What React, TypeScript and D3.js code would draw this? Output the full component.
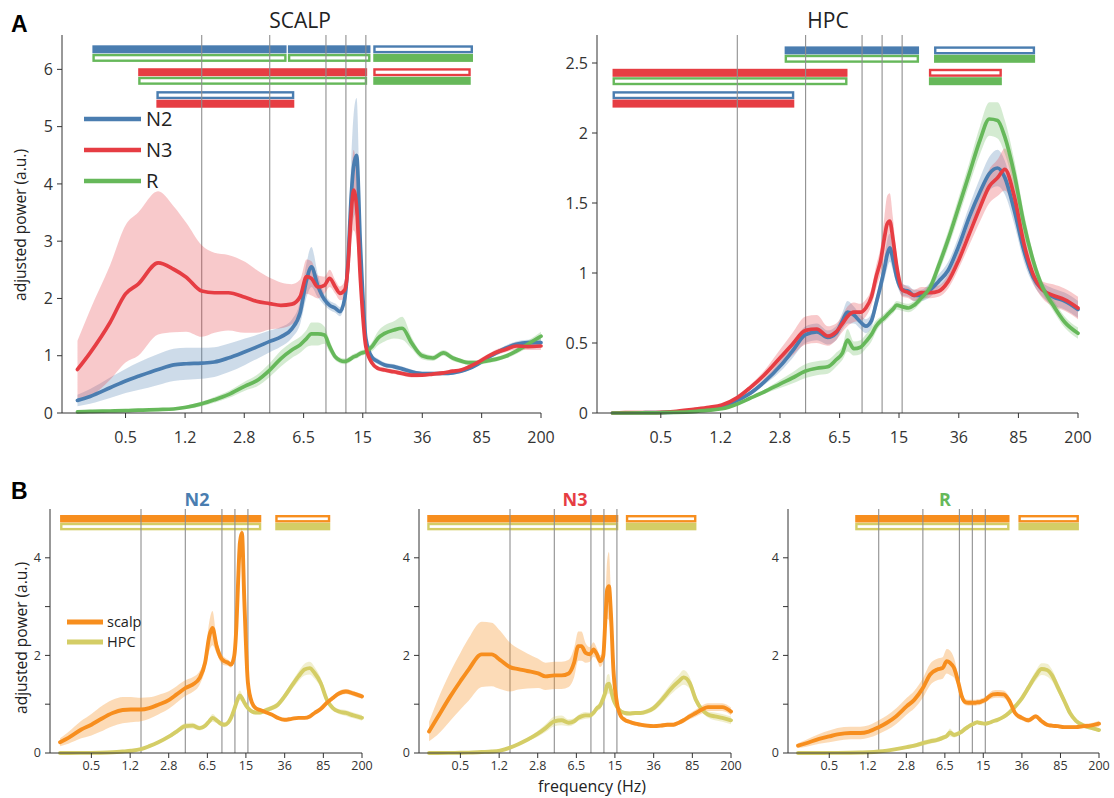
import React from 'react';
import * as d3 from 'd3';

// frequency grid (Hz) shared by every spectrum
const freqs = [0.25, 0.3, 0.4, 0.5, 0.6, 0.8, 1.0, 1.2, 1.5, 1.8, 2.2, 2.8, 3.3, 4.0, 4.7, 5.5, 6.2, 6.8, 7.3, 8.0,
  8.8, 9.5, 10.3, 11.0, 11.8, 12.4, 12.9, 13.4, 14.0, 14.8, 16, 17.5, 19, 21, 24, 27, 31, 36, 42, 49,
  56, 63, 70, 80, 92, 105, 120, 140, 165, 200];

const tickFreqs = [0.5, 1.18, 2.77, 6.52, 15.3, 36.1, 85, 200];
const tickLabels = ['0.5', '1.2', '2.8', '6.5', '15', '36', '85', '200'];
const bandEdges = [1.5, 4, 9, 12, 16];

// panel A - scalp
const scalpN2 = [0.22, 0.29, 0.44, 0.56, 0.64, 0.76, 0.84, 0.86, 0.87, 0.89, 0.96, 1.07, 1.15, 1.25, 1.33, 1.47, 1.75, 2.32, 2.55, 2.22,
  1.98, 1.88, 1.83, 1.77, 2.0, 2.7, 3.7, 4.3, 4.5, 2.9, 1.3, 0.97, 0.9, 0.84, 0.81, 0.77, 0.72, 0.69, 0.69, 0.69,
  0.7, 0.73, 0.77, 0.85, 0.96, 1.05, 1.13, 1.2, 1.23, 1.23];
const scalpN2Err = [0.1, 0.13, 0.18, 0.21, 0.24, 0.27, 0.28, 0.28, 0.27, 0.26, 0.25, 0.23, 0.21, 0.19, 0.17, 0.16, 0.2, 0.3, 0.35, 0.2,
  0.1, 0.08, 0.08, 0.08, 0.1, 0.3, 0.6, 0.9, 1.0, 0.5, 0.1, 0.05, 0.05, 0.04, 0.04, 0.04, 0.04, 0.03, 0.03, 0.03,
  0.03, 0.03, 0.03, 0.03, 0.04, 0.04, 0.05, 0.05, 0.05, 0.06];
const scalpN3 = [0.76, 1.05, 1.58, 2.08, 2.25, 2.62, 2.51, 2.37, 2.13, 2.1, 2.1, 2.02, 1.95, 1.91, 1.88, 1.9, 2.03, 2.38, 2.35, 2.2,
  2.23, 2.35, 2.2, 2.09, 2.15, 2.61, 3.42, 3.89, 3.6, 2.32, 1.16, 0.87, 0.78, 0.75, 0.72, 0.69, 0.66, 0.66, 0.68, 0.7,
  0.73, 0.75, 0.8, 0.88, 0.98, 1.06, 1.11, 1.17, 1.16, 1.17];
const scalpN3Err = [0.5, 0.75, 1.0, 1.2, 1.25, 1.25, 1.1, 0.95, 0.8, 0.7, 0.66, 0.62, 0.55, 0.45, 0.4, 0.35, 0.3, 0.3, 0.3, 0.2,
  0.15, 0.15, 0.12, 0.12, 0.15, 0.3, 0.5, 0.7, 0.6, 0.3, 0.08, 0.04, 0.04, 0.04, 0.04, 0.04, 0.04, 0.03, 0.03, 0.03,
  0.03, 0.03, 0.03, 0.04, 0.04, 0.05, 0.05, 0.06, 0.06, 0.07];
const scalpR = [0.02, 0.03, 0.035, 0.04, 0.05, 0.06, 0.07, 0.1, 0.16, 0.23, 0.32, 0.47, 0.56, 0.75, 0.95, 1.1, 1.19, 1.3, 1.38, 1.38,
  1.36, 1.16, 0.98, 0.92, 0.9, 0.92, 0.95, 0.98, 1.0, 1.04, 1.07, 1.16, 1.3, 1.39, 1.45, 1.48, 1.22, 1.0, 0.96, 1.05,
  0.96, 0.91, 0.88, 0.88, 0.91, 0.94, 0.99, 1.08, 1.2, 1.34];
const scalpRErr = [0.02, 0.02, 0.02, 0.02, 0.02, 0.02, 0.02, 0.03, 0.04, 0.05, 0.06, 0.08, 0.1, 0.12, 0.14, 0.14, 0.14, 0.15, 0.2, 0.2,
  0.15, 0.1, 0.06, 0.05, 0.05, 0.05, 0.05, 0.05, 0.05, 0.05, 0.05, 0.08, 0.12, 0.14, 0.15, 0.2, 0.1, 0.06, 0.05, 0.05,
  0.05, 0.04, 0.04, 0.04, 0.04, 0.04, 0.04, 0.05, 0.06, 0.08];

// panel A - hippocampus
const hpcN2 = [0.0, 0.001, 0.002, 0.003, 0.006, 0.017, 0.03, 0.045, 0.09, 0.14, 0.22, 0.34, 0.44, 0.56, 0.58, 0.54, 0.57, 0.66, 0.72, 0.7,
  0.65, 0.62, 0.66, 0.78, 0.92, 1.03, 1.13, 1.18, 1.1, 0.97, 0.88, 0.87, 0.84, 0.84, 0.88, 0.94, 1.02, 1.19, 1.4, 1.58,
  1.71, 1.75, 1.68, 1.45, 1.16, 0.97, 0.88, 0.83, 0.8, 0.74];
const hpcN2Err = [0, 0, 0, 0, 0.001, 0.003, 0.005, 0.007, 0.01, 0.015, 0.02, 0.04, 0.05, 0.06, 0.06, 0.05, 0.05, 0.06, 0.08, 0.06,
  0.05, 0.05, 0.05, 0.05, 0.06, 0.08, 0.1, 0.1, 0.08, 0.05, 0.04, 0.04, 0.04, 0.04, 0.05, 0.05, 0.06, 0.07, 0.08, 0.1,
  0.12, 0.13, 0.12, 0.1, 0.08, 0.05, 0.05, 0.06, 0.06, 0.06];
const hpcN3 = [0.0, 0.002, 0.003, 0.005, 0.01, 0.026, 0.04, 0.057, 0.11, 0.18, 0.27, 0.4, 0.49, 0.59, 0.6, 0.55, 0.58, 0.64, 0.69, 0.72,
  0.72, 0.75, 0.83, 0.97, 1.1, 1.25, 1.35, 1.37, 1.25, 1.05, 0.88, 0.86, 0.84, 0.86, 0.86, 0.87, 0.94, 1.09, 1.28, 1.47,
  1.62, 1.68, 1.74, 1.55, 1.21, 0.99, 0.88, 0.84, 0.81, 0.75];
const hpcN3Err = [0, 0, 0, 0, 0.001, 0.003, 0.005, 0.008, 0.012, 0.02, 0.03, 0.06, 0.08, 0.1, 0.1, 0.07, 0.06, 0.06, 0.07, 0.07,
  0.06, 0.06, 0.06, 0.08, 0.1, 0.15, 0.2, 0.2, 0.15, 0.08, 0.05, 0.04, 0.04, 0.04, 0.04, 0.04, 0.05, 0.06, 0.08, 0.1,
  0.12, 0.13, 0.15, 0.12, 0.08, 0.06, 0.06, 0.08, 0.08, 0.08];
const hpcR = [0.0, 0.0, 0.001, 0.002, 0.004, 0.01, 0.02, 0.03, 0.065, 0.105, 0.15, 0.21, 0.25, 0.3, 0.32, 0.33, 0.38, 0.43, 0.52, 0.46,
  0.47, 0.51, 0.56, 0.62, 0.66, 0.68, 0.7, 0.72, 0.74, 0.77, 0.76, 0.75, 0.77, 0.82, 0.9, 1.05, 1.24, 1.47, 1.71, 1.95,
  2.1, 2.09, 1.97, 1.71, 1.35, 1.09, 0.9, 0.77, 0.65, 0.57];
const hpcRErr = [0, 0, 0, 0, 0.001, 0.002, 0.003, 0.005, 0.008, 0.01, 0.015, 0.03, 0.04, 0.05, 0.05, 0.05, 0.05, 0.05, 0.08, 0.05,
  0.05, 0.05, 0.05, 0.04, 0.03, 0.03, 0.03, 0.03, 0.03, 0.03, 0.03, 0.03, 0.03, 0.03, 0.04, 0.05, 0.06, 0.07, 0.08, 0.1,
  0.12, 0.13, 0.12, 0.1, 0.08, 0.05, 0.04, 0.04, 0.04, 0.04];

// panel B - scalp vs HPC per stage
const bN2Scalp = [0.22, 0.31, 0.48, 0.58, 0.68, 0.82, 0.88, 0.89, 0.89, 0.92, 0.99, 1.09, 1.2, 1.33, 1.4, 1.54, 1.85, 2.39, 2.56, 2.19,
  1.95, 1.88, 1.85, 1.81, 1.98, 2.6, 3.56, 4.31, 4.51, 3.08, 1.44, 1.03, 0.92, 0.88, 0.83, 0.79, 0.72, 0.68, 0.7, 0.72,
  0.72, 0.75, 0.82, 0.9, 1.03, 1.13, 1.22, 1.26, 1.22, 1.16];
const bN2ScalpErr = [0.08, 0.12, 0.18, 0.22, 0.25, 0.27, 0.27, 0.26, 0.24, 0.22, 0.2, 0.18, 0.17, 0.16, 0.15, 0.14, 0.15, 0.3, 0.35, 0.15,
  0.1, 0.08, 0.06, 0.06, 0.06, 0.1, 0.1, 0.1, 0.1, 0.08, 0.05, 0.04, 0.04, 0.03, 0.03, 0.03, 0.03, 0.03, 0.03, 0.03,
  0.03, 0.03, 0.03, 0.03, 0.04, 0.04, 0.05, 0.05, 0.05, 0.05];
const bN2Hpc = [0.0, 0.001, 0.002, 0.003, 0.006, 0.015, 0.03, 0.045, 0.08, 0.14, 0.22, 0.34, 0.44, 0.55, 0.56, 0.51, 0.56, 0.65, 0.72, 0.67,
  0.6, 0.58, 0.62, 0.72, 0.89, 1.03, 1.13, 1.18, 1.13, 1.03, 0.92, 0.85, 0.83, 0.83, 0.88, 0.92, 0.99, 1.16, 1.37, 1.57,
  1.71, 1.74, 1.64, 1.44, 1.09, 0.92, 0.85, 0.82, 0.77, 0.72];
const bN3Scalp = [0.44, 0.72, 1.16, 1.47, 1.71, 2.02, 2.02, 1.91, 1.76, 1.72, 1.68, 1.63, 1.57, 1.59, 1.59, 1.63, 1.85, 2.19, 2.19, 2.05,
  2.02, 2.12, 2.02, 1.88, 1.98, 2.74, 3.35, 3.42, 2.87, 1.71, 1.03, 0.75, 0.68, 0.64, 0.6, 0.58, 0.56, 0.55, 0.56, 0.58,
  0.58, 0.62, 0.67, 0.75, 0.82, 0.89, 0.94, 0.94, 0.94, 0.85];
const bN3ScalpErr = [0.2, 0.35, 0.5, 0.58, 0.64, 0.67, 0.65, 0.6, 0.5, 0.42, 0.36, 0.3, 0.28, 0.28, 0.28, 0.28, 0.3, 0.3, 0.3, 0.2,
  0.15, 0.15, 0.12, 0.12, 0.12, 0.3, 0.6, 0.7, 0.5, 0.2, 0.06, 0.04, 0.04, 0.04, 0.04, 0.04, 0.04, 0.04, 0.04, 0.04,
  0.04, 0.04, 0.05, 0.06, 0.07, 0.08, 0.08, 0.08, 0.08, 0.08];
const bN3Hpc = [0.0, 0.001, 0.002, 0.004, 0.008, 0.02, 0.03, 0.05, 0.11, 0.18, 0.27, 0.4, 0.51, 0.65, 0.67, 0.62, 0.65, 0.72, 0.75, 0.77,
  0.77, 0.82, 0.92, 0.97, 1.12, 1.25, 1.4, 1.42, 1.3, 1.1, 0.95, 0.85, 0.82, 0.81, 0.82, 0.82, 0.85, 0.92, 1.06, 1.23,
  1.37, 1.47, 1.55, 1.44, 1.09, 0.89, 0.79, 0.75, 0.72, 0.67];
const bRScalp = [0.15, 0.2, 0.29, 0.34, 0.38, 0.41, 0.41, 0.44, 0.53, 0.62, 0.75, 0.96, 1.09, 1.33, 1.61, 1.71, 1.74, 1.88, 1.85, 1.74,
  1.44, 1.16, 1.04, 1.03, 1.03, 1.03, 1.03, 1.04, 1.04, 1.06, 1.09, 1.16, 1.2, 1.21, 1.2, 1.09, 0.82, 0.72, 0.67, 0.75,
  0.65, 0.58, 0.56, 0.55, 0.53, 0.53, 0.53, 0.55, 0.56, 0.6];
const bRScalpErr = [0.05, 0.07, 0.1, 0.12, 0.13, 0.13, 0.13, 0.13, 0.14, 0.15, 0.16, 0.17, 0.18, 0.2, 0.22, 0.22, 0.22, 0.25, 0.25, 0.2,
  0.12, 0.08, 0.06, 0.06, 0.06, 0.06, 0.06, 0.06, 0.06, 0.06, 0.06, 0.07, 0.08, 0.08, 0.08, 0.08, 0.06, 0.05, 0.05, 0.05,
  0.04, 0.04, 0.04, 0.04, 0.04, 0.04, 0.04, 0.05, 0.05, 0.06];
const bRHpc = [0.0, 0.0, 0.001, 0.002, 0.003, 0.006, 0.01, 0.015, 0.03, 0.05, 0.08, 0.12, 0.15, 0.2, 0.24, 0.27, 0.31, 0.35, 0.42, 0.37,
  0.4, 0.44, 0.5, 0.54, 0.58, 0.6, 0.62, 0.63, 0.62, 0.61, 0.6, 0.62, 0.65, 0.68, 0.74, 0.82, 0.95, 1.12, 1.35, 1.58,
  1.72, 1.7, 1.6, 1.35, 1.08, 0.82, 0.66, 0.57, 0.52, 0.47];

// significance bars: [y value, from Hz, to Hz, stage, filled]
type Bar = [number, number, number, string, boolean];
const scalpBars: Bar[] = [
  [6.35, 0.31, 5.1, 'N2', true], [6.35, 5.2, 17.1, 'N2', true], [6.35, 17.8, 75, 'N2', false],
  [6.2, 0.31, 5.1, 'R', false], [6.2, 5.2, 17.1, 'R', false], [6.2, 17.8, 75, 'R', true],
  [5.95, 0.6, 16.3, 'N3', true], [5.95, 17.8, 72.6, 'N3', false],
  [5.8, 0.6, 16.3, 'R', false], [5.8, 17.8, 72.6, 'R', true],
  [5.55, 0.78, 5.7, 'N2', false], [5.4, 0.78, 5.7, 'N3', true],
];
const hpcBars: Bar[] = [
  [2.59, 2.96, 20.4, 'N2', true], [2.59, 25.3, 108, 'N2', false],
  [2.53, 2.96, 20.4, 'R', false], [2.53, 25.3, 108, 'R', true],
  [2.43, 0.25, 7.3, 'N3', true], [2.43, 23.5, 67, 'N3', false],
  [2.37, 0.25, 7.3, 'R', false], [2.37, 23.5, 67, 'R', true],
  [2.27, 0.25, 3.4, 'N2', false], [2.21, 0.25, 3.4, 'N3', true],
];
const bN2Bars: Bar[] = [[4.8, 0.25, 21.5, 'scalp', true], [4.8, 29.3, 99, 'scalp', false], [4.64, 0.25, 21.5, 'HPC', false], [4.64, 29.3, 99, 'HPC', true]];
const bN3Bars: Bar[] = [[4.8, 0.24, 16.5, 'scalp', true], [4.8, 19.5, 93, 'scalp', false], [4.64, 0.24, 16.5, 'HPC', false], [4.64, 19.5, 93, 'HPC', true]];
const bRBars: Bar[] = [[4.8, 0.89, 27.4, 'scalp', true], [4.8, 33.4, 128, 'scalp', false], [4.64, 0.89, 27.4, 'HPC', false], [4.64, 33.4, 128, 'HPC', true]];

const COLORS: Record<string, string> = {
  N2: '#4a7db0', N3: '#e63d43', R: '#66b85a', scalp: '#f78e1e', HPC: '#d4cd66',
};
const FONT = '"Open Sans", "Liberation Sans", sans-serif';
const AXIS = '#333';

interface Series { values: number[]; err: number[]; key: string }

interface PanelProps {
  left: number; right: number; top: number; bottom: number;
  yMax: number; yTicks: number[]; yLabeled: number[];
  series: Series[]; bars: Bar[];
  lineW: number; barH: number; tickFont: number; labelDy: number; bandOpacity: number;
}

function Panel(p: PanelProps) {
  const x = d3.scaleLog().domain([0.2, 200]).range([p.left, p.right]);
  const y = d3.scaleLinear().domain([0, p.yMax]).range([p.bottom, p.top]);
  const line = d3.line<number>().x((_, i) => x(freqs[i])).y(d => y(d)).curve(d3.curveMonotoneX);
  const band = (s: Series) => d3.area<number>()
    .x((_, i) => x(freqs[i]))
    .y0((d, i) => y(Math.max(0, d - s.err[i])))
    .y1((d, i) => y(d + s.err[i]))
    .curve(d3.curveMonotoneX)(s.values) || '';
  const sw = 2.4;
  return (
    <g>
      {p.bars.map((b, i) => {
        const [v, f0, f1, key, filled] = b;
        const c = COLORS[key];
        const x0 = x(f0), x1 = x(f1), yc = y(v);
        return filled
          ? <rect key={i} x={x0} y={yc - p.barH / 2} width={x1 - x0} height={p.barH} fill={c} />
          : <rect key={i} x={x0 + sw / 2} y={yc - p.barH / 2 + sw / 2} width={x1 - x0 - sw} height={p.barH - sw}
              fill="none" stroke={c} strokeWidth={sw} />;
      })}
      {bandEdges.map(f => (
        <line key={f} x1={x(f)} x2={x(f)} y1={p.top} y2={p.bottom} stroke="#8f8f8f" strokeWidth={1.1} />
      ))}
      {p.series.map(s => (
        <path key={s.key + 'b'} d={band(s)} fill={COLORS[s.key]} opacity={p.bandOpacity} />
      ))}
      {p.series.map(s => (
        <path key={s.key + 'l'} d={line(s.values) || ''} fill="none" stroke={COLORS[s.key]}
          strokeWidth={p.lineW} strokeLinejoin="round" strokeLinecap="round" />
      ))}
      {/* axes */}
      <line x1={p.left} x2={p.left} y1={p.top} y2={p.bottom} stroke={AXIS} strokeWidth={1} />
      <line x1={p.left} x2={p.right} y1={p.bottom} y2={p.bottom} stroke={AXIS} strokeWidth={1} />
      {p.yTicks.map(t => (
        <g key={t}>
          <line x1={p.left - 5} x2={p.left} y1={y(t)} y2={y(t)} stroke={AXIS} />
          {p.yLabeled.includes(t) && (
            <text x={p.left - 9} y={y(t)} dy="0.35em" textAnchor="end" fontSize={p.tickFont} fill="#333" fontFamily={FONT}>
              {String(t)}
            </text>
          )}
        </g>
      ))}
      {tickFreqs.map((t, i) => (
        <g key={t}>
          <line x1={x(t)} x2={x(t)} y1={p.bottom} y2={p.bottom + 5} stroke={AXIS} />
          <text x={x(t)} y={p.bottom + p.labelDy} textAnchor="middle" fontSize={p.tickFont} fill="#333" fontFamily={FONT}>
            {tickLabels[i]}
          </text>
        </g>
      ))}
    </g>
  );
}

export default function App() {
  const aCommon = { top: 35, bottom: 413, lineW: 3.7, barH: 8, tickFont: 16, labelDy: 30, bandOpacity: 0.28 };
  const bCommon = {
    top: 509, bottom: 753, yMax: 5, yTicks: [0, 1, 2, 3, 4], yLabeled: [0, 2, 4],
    lineW: 3.9, barH: 7.5, tickFont: 12.5, labelDy: 17, bandOpacity: 0.32,
  };
  return (
    <svg width={1114} height={798} style={{ position: 'absolute', left: 0, top: 0, background: '#fff' }}>
      <text x={11} y={32} fontSize={23} fontWeight="bold" fontFamily='"Liberation Sans", Arial, sans-serif'>A</text>
      <text x={11} y={499} fontSize={23} fontWeight="bold" fontFamily='"Liberation Sans", Arial, sans-serif'>B</text>

      <text x={300} y={28} textAnchor="middle" fontSize={21} fontFamily={FONT} fill="#222">SCALP</text>
      <text x={828} y={28} textAnchor="middle" fontSize={21} fontFamily={FONT} fill="#222">HPC</text>
      <text transform="translate(26,225) rotate(-90)" textAnchor="middle" fontSize={15.5} fontFamily={FONT} fill="#222">
        adjusted power (a.u.)
      </text>

      <Panel {...aCommon} left={62} right={541} yMax={6.6} yTicks={[0, 1, 2, 3, 4, 5, 6]} yLabeled={[0, 1, 2, 3, 4, 5, 6]}
        bars={scalpBars}
        series={[
          { key: 'N2', values: scalpN2, err: scalpN2Err },
          { key: 'R', values: scalpR, err: scalpRErr },
          { key: 'N3', values: scalpN3, err: scalpN3Err },
        ]} />
      <Panel {...aCommon} left={597} right={1078} yMax={2.7} yTicks={[0, 0.5, 1, 1.5, 2, 2.5]} yLabeled={[0, 0.5, 1, 1.5, 2, 2.5]}
        bars={hpcBars}
        series={[
          { key: 'N2', values: hpcN2, err: hpcN2Err },
          { key: 'N3', values: hpcN3, err: hpcN3Err },
          { key: 'R', values: hpcR, err: hpcRErr },
        ]} />

      {/* legend A */}
      {['N2', 'N3', 'R'].map((k, i) => (
        <g key={k}>
          <line x1={84} x2={141} y1={119 + i * 31} y2={119 + i * 31} stroke={COLORS[k]} strokeWidth={4.5} />
          <text x={146} y={119 + i * 31} dy="0.36em" fontSize={20} fontFamily={FONT} fill="#222">{k}</text>
        </g>
      ))}

      <text x={197} y={506} textAnchor="middle" fontSize={18} fontWeight="bold" fontFamily={FONT} fill={COLORS.N2}>N2</text>
      <text x={575} y={506} textAnchor="middle" fontSize={18} fontWeight="bold" fontFamily={FONT} fill={COLORS.N3}>N3</text>
      <text x={945} y={506} textAnchor="middle" fontSize={18} fontWeight="bold" fontFamily={FONT} fill={COLORS.R}>R</text>
      <text transform="translate(27,638) rotate(-90)" textAnchor="middle" fontSize={15.5} fontFamily={FONT} fill="#222">
        adjusted power (a.u.)
      </text>
      <text x={592} y={792} textAnchor="middle" fontSize={16} fontFamily={FONT} fill="#222">frequency (Hz)</text>

      <Panel {...bCommon} left={50} right={362} bars={bN2Bars}
        series={[
          { key: 'HPC', values: bN2Hpc, err: hpcN2Err },
          { key: 'scalp', values: bN2Scalp, err: bN2ScalpErr },
        ]} />
      <Panel {...bCommon} left={419} right={731} bars={bN3Bars}
        series={[
          { key: 'HPC', values: bN3Hpc, err: hpcN3Err },
          { key: 'scalp', values: bN3Scalp, err: bN3ScalpErr },
        ]} />
      <Panel {...bCommon} left={788} right={1099} bars={bRBars}
        series={[
          { key: 'HPC', values: bRHpc, err: hpcRErr },
          { key: 'scalp', values: bRScalp, err: bRScalpErr },
        ]} />

      {/* legend B */}
      {['scalp', 'HPC'].map((k, i) => (
        <g key={k}>
          <line x1={67} x2={103} y1={622 + i * 20} y2={622 + i * 20} stroke={COLORS[k]} strokeWidth={5} />
          <text x={107} y={622 + i * 20} dy="0.35em" fontSize={14.5} fontFamily={FONT} fill="#222">{k}</text>
        </g>
      ))}
    </svg>
  );
}
